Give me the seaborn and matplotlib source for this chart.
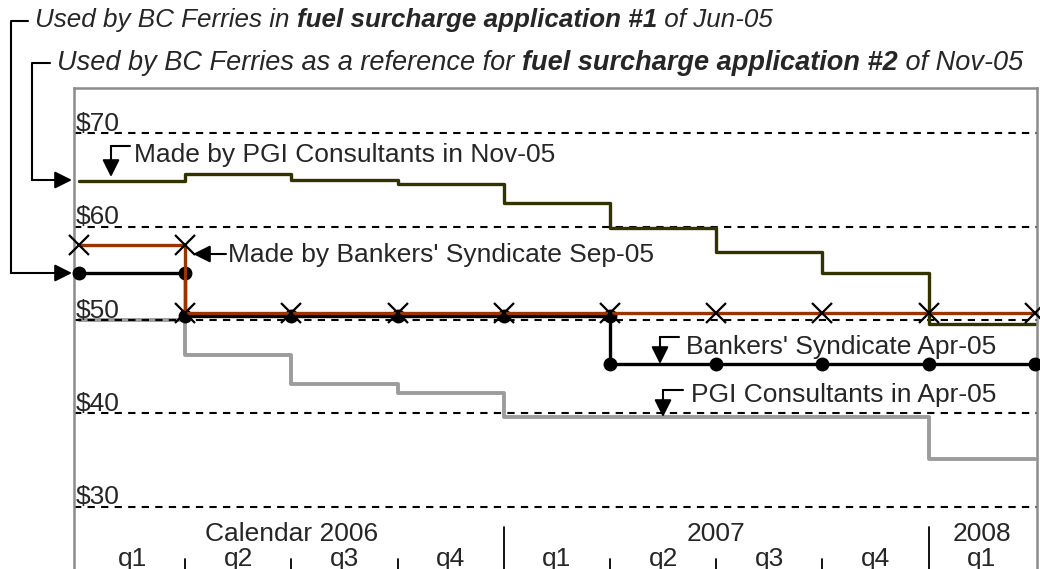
import matplotlib
matplotlib.use("Agg")
import matplotlib.pyplot as plt
import seaborn as sns

# titik kuartal: awal q1-2006 (0) .. akhir q1-2008 (9)
quarter_pts = list(range(10))

# tangga per kuartal (9 kuartal), nilai terakhir diperpanjang ke titik 9
pgi_nov05 = [64.9, 65.65, 65.0, 64.55, 62.5, 59.9, 57.3, 55.0, 49.6]
pgi_apr05 = [50.0, 46.2, 43.1, 42.2, 39.6, 39.6, 39.6, 39.6, 35.1]

# seri dengan marker (ada titik ganda di tempat lompatan)
bankers_sep05_x = [0, 1, 1, 2, 3, 4, 5, 6, 7, 8, 9]
bankers_sep05 = [58.0, 58.0, 50.8, 50.8, 50.8, 50.8, 50.8, 50.8, 50.8, 50.8, 50.8]
bankers_apr05_x = [0, 1, 1, 2, 3, 4, 5, 5, 6, 7, 8, 9]
bankers_apr05 = [55.0, 55.0, 50.4, 50.4, 50.4, 50.4, 50.4, 45.3, 45.3, 45.3, 45.3, 45.3]

grid_levels = [30, 40, 50, 60, 70]
quarter_labels = ["q1", "q2", "q3", "q4", "q1", "q2", "q3", "q4", "q1"]
year_labels = ["Calendar 2006", "2007", "2008"]
year_centers = [2, 6, 8.5]
year_breaks = [4, 8]

W, H = 1040, 569
FS = 19

sns.set_style("white")
plt.rcParams["font.family"] = ["Liberation Sans", "DejaVu Sans"]

fig = plt.figure(figsize=(W / 100, H / 100), dpi=100)
ax = fig.add_axes([74 / W, 0, (1037 - 74) / W, (H - 88) / H])

# skala sumbu: 1 kuartal = 106.2 px, $1 = 9.34 px
ax.set_xlim(-5 / 106.2, (1037 - 79) / 106.2)
ax.set_ylim(50 - 249 / 9.34, 50 + 232 / 9.34)

for s in ["left", "right", "top"]:
    ax.spines[s].set_color("#8c8c8c")
    ax.spines[s].set_linewidth(1.8)
ax.spines["bottom"].set_visible(False)
ax.set_xticks([])
ax.set_yticks([])

# garis kisi putus-putus + label $ di dalam plot
for v in grid_levels:
    ax.axhline(v, color="black", lw=1.5, ls=(0, (3.5, 3)), zorder=1.5)
    ax.text(-0.028, v + 0.25, f"${v}", ha="left", va="baseline", fontsize=FS, zorder=3)

# seri tangga
sns.lineplot(x=quarter_pts, y=pgi_apr05 + pgi_apr05[-1:], ax=ax, color="#9c9c9c", lw=2.8,
             drawstyle="steps-post", estimator=None, sort=False, zorder=1)
sns.lineplot(x=quarter_pts, y=pgi_nov05 + pgi_nov05[-1:], ax=ax, color="#333300", lw=2.4,
             drawstyle="steps-post", estimator=None, sort=False, zorder=2)

# seri dengan marker
sns.lineplot(x=bankers_apr05_x, y=bankers_apr05, ax=ax, color="black", lw=2.4,
             marker="o", markersize=10, markeredgewidth=0, estimator=None, sort=False,
             zorder=3, clip_on=False)
sns.lineplot(x=bankers_sep05_x, y=bankers_sep05, ax=ax, color="#993300", lw=2.4,
             estimator=None, sort=False, zorder=4)
sns.lineplot(x=bankers_sep05_x, y=bankers_sep05, ax=ax, lw=0, marker="x", markersize=15,
             markeredgewidth=1.6, markeredgecolor="black", color="black",
             estimator=None, sort=False, zorder=5, clip_on=False)
ax.set_xlabel("")
ax.set_ylabel("")

# label sumbu x di dalam plot
xt = ax.get_xaxis_transform()
for i, lab in enumerate(quarter_labels):
    ax.text(i + 0.5, 0.006, lab, transform=xt, ha="center", va="baseline", fontsize=FS)
    if i > 0 and i not in year_breaks:
        ax.plot([i, i], [0, 0.021], transform=xt, color="black", lw=1.3)
for xb in year_breaks:
    ax.plot([xb, xb], [0, 0.088], transform=xt, color="black", lw=1.3)
for xc, lab in zip(year_centers, year_labels):
    ax.text(xc, 0.058, lab, transform=xt, ha="center", va="baseline", fontsize=FS)


def px2d(px, py):
    return (px - 79) / 106.2, 50 + (320 - py) / 9.34


def bent_arrow(pts, text, text_xy):
    xs, ys = zip(*[px2d(*p) for p in pts])
    ax.plot(xs[:-1], ys[:-1], color="black", lw=1.5, zorder=6)
    ax.annotate("", xy=(xs[-1], ys[-1]), xytext=(xs[-2], ys[-2]),
                arrowprops=dict(arrowstyle="-|>", color="black", lw=1.5,
                                mutation_scale=26, shrinkA=0, shrinkB=0), zorder=6)
    tx, ty = px2d(*text_xy)
    ax.text(tx, ty, text, ha="left", va="center", fontsize=FS, zorder=6)


bent_arrow([(130, 146), (111, 146), (111, 177)], "Made by PGI Consultants in Nov-05", (134, 155))
bent_arrow([(226, 254), (193, 254)], "Made by Bankers' Syndicate Sep-05", (228, 255))
bent_arrow([(679, 337), (660, 337), (660, 364)], "Bankers' Syndicate Apr-05", (686, 347))
bent_arrow([(683, 390), (663, 390), (663, 417)], "PGI Consultants in Apr-05", (691, 395))


# judul dua baris dengan bagian tebal-miring
def fig_pt(px, py):
    return px / W, 1 - py / H


def chain_text(x_px, y_px, parts, size):
    r = fig.canvas.get_renderer()
    x = x_px
    for s, w in parts:
        t = fig.text(*fig_pt(x, y_px), s, style="italic", weight=w, fontsize=size, va="baseline")
        x += t.get_window_extent(r).width


chain_text(35, 27, [("Used by BC Ferries in ", "normal"),
                    ("fuel surcharge application #1", "bold"),
                    (" of Jun-05", "normal")], 18.7)
chain_text(57, 70, [("Used by BC Ferries as a reference for ", "normal"),
                    ("fuel surcharge application #2", "bold"),
                    (" of Nov-05", "normal")], 19.5)


def fig_bracket(pts):
    xs, ys = zip(*[fig_pt(*p) for p in pts])
    fig.add_artist(plt.Line2D(xs[:-1], ys[:-1], color="black", lw=1.5))
    ax.annotate("", xy=(xs[-1], ys[-1]), xytext=(xs[-2], ys[-2]),
                xycoords="figure fraction", textcoords="figure fraction",
                arrowprops=dict(arrowstyle="-|>", color="black", lw=1.5,
                                mutation_scale=26, shrinkA=0, shrinkB=0),
                annotation_clip=False)


fig_bracket([(28, 21), (11, 21), (11, 273), (72, 273)])
fig_bracket([(50, 63), (32, 63), (32, 180), (72, 180)])

fig.savefig("out.png", dpi=100)
